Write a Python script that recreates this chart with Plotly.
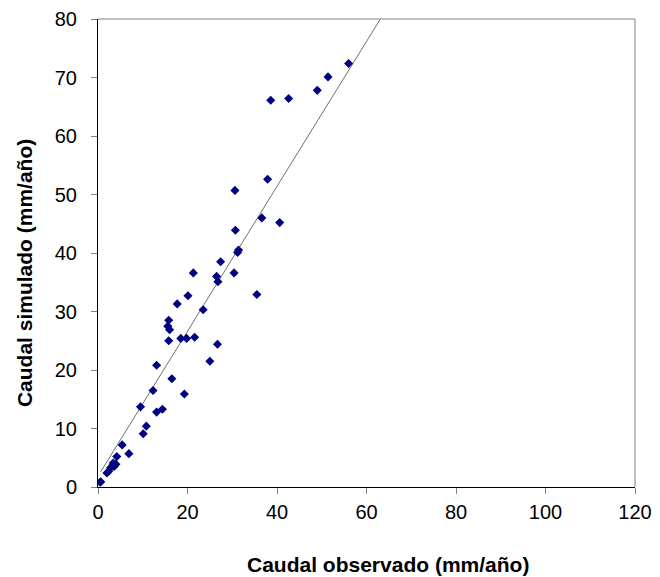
import plotly.graph_objects as go

obs = [0.5, 0.6, 2.0, 2.4, 2.8, 3.3, 3.4, 3.6, 4.0, 4.2, 5.4, 6.9, 9.5, 10.1, 10.8,
       12.3, 13.1, 13.1, 14.4, 15.8, 15.6, 16.0, 15.8, 16.5, 17.7, 18.5, 19.3, 19.8,
       20.1, 21.3, 21.6, 23.5, 25.0, 26.5, 26.8, 26.7, 27.4, 30.4, 30.6, 30.7, 31.2,
       31.4, 35.5, 36.6, 37.9, 38.6, 40.6, 42.6, 49.0, 51.4, 56.0]
sim = [0.8, 0.9, 2.4, 2.7, 3.3, 3.7, 4.1, 3.5, 3.9, 5.2, 7.2, 5.7, 13.7, 9.1, 10.4,
       16.5, 20.8, 12.8, 13.3, 28.5, 27.5, 26.9, 25.0, 18.5, 31.3, 25.4, 15.9, 25.4,
       32.7, 36.6, 25.6, 30.3, 21.5, 36.0, 35.1, 24.4, 38.5, 36.6, 50.7, 43.9, 40.1,
       40.5, 32.9, 46.0, 52.6, 66.1, 45.2, 66.4, 67.8, 70.1, 72.4]

trend_x = [0.6, 63.1]
trend_y = [2.6, 80.0]

x_ticks = [0, 20, 40, 60, 80, 100, 120]
y_ticks = [0, 10, 20, 30, 40, 50, 60, 70, 80]

x_title = "Caudal observado (mm/año)"
y_title = "Caudal simulado (mm/año)"

font_family = "Arial, 'Liberation Sans', sans-serif"

fig = go.Figure()
fig.add_trace(go.Scatter(x=trend_x, y=trend_y, mode="lines",
                         line=dict(color="#606060", width=0.9), showlegend=False,
                         hoverinfo="skip"))
fig.add_trace(go.Scatter(x=obs, y=sim, mode="markers",
                         marker=dict(symbol="diamond", color="#000080", size=7,
                                     line=dict(width=0)),
                         showlegend=False))

# page body has an 8px margin, so the figure is shrunk by that offset
fig.update_layout(
    width=652, height=569,
    margin=dict(l=90, r=25, t=11, b=90),
    paper_bgcolor="white", plot_bgcolor="white",
    font=dict(family=font_family, size=20, color="black"),
    xaxis=dict(range=[0, 120], tickvals=x_ticks, showgrid=False, zeroline=False,
               showline=True, linecolor="black", linewidth=1,
               ticks="outside", ticklen=6, tickcolor="#808080",
               ticklabelstandoff=1, automargin=False),
    yaxis=dict(range=[0, 80], tickvals=y_ticks, showgrid=False, zeroline=False,
               showline=True, linecolor="black", linewidth=1,
               ticks="outside", ticklen=6, tickcolor="#808080",
               ticklabelstandoff=10, automargin=False),
    shapes=[
        dict(type="line", xref="paper", yref="paper", x0=0, x1=1, y0=1, y1=1,
             line=dict(color="#808080", width=1)),
        dict(type="line", xref="paper", yref="paper", x0=1, x1=1, y0=0, y1=1,
             line=dict(color="#808080", width=1)),
    ],
    annotations=[
        dict(text="<b>" + x_title + "</b>", xref="paper", yref="paper",
             x=0.54, y=0, yshift=-77, xanchor="center", yanchor="middle",
             showarrow=False, font=dict(size=21)),
        dict(text="<b>" + y_title + "</b>", xref="paper", yref="paper",
             x=0, y=0.457, xshift=-74, xanchor="center", yanchor="middle",
             textangle=-90, showarrow=False, font=dict(size=21)),
    ],
)

fig.write_html("out.html")
